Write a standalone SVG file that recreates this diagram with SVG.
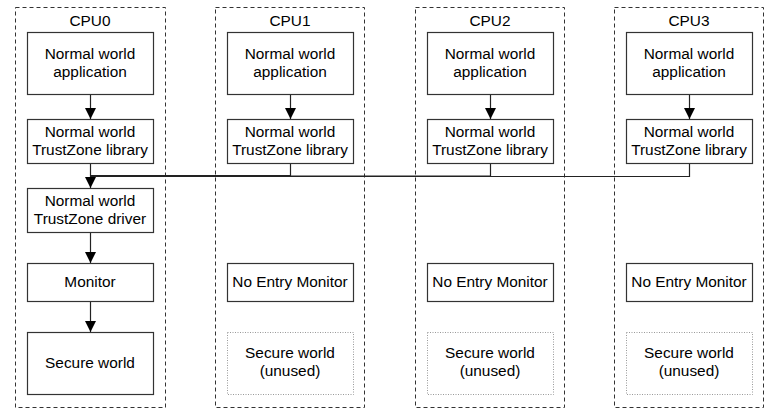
<svg xmlns="http://www.w3.org/2000/svg" width="784" height="420" viewBox="0 0 784 420">
<defs>
<style>
text{font-family:"Liberation Sans",Arial,sans-serif;font-size:15.4px;fill:#000;text-anchor:middle}
.cpu{fill:none;stroke:#333;stroke-width:1;stroke-dasharray:4,3}
.box{fill:#fff;stroke:#333;stroke-width:1.2}
.unused{fill:#fff;stroke:#999;stroke-width:1;stroke-dasharray:1,1.5}
.ln{fill:none;stroke:#222;stroke-width:1.2}
.ar{fill:none;stroke:#222;stroke-width:1.2;marker-end:url(#ah)}
</style>
<marker id="ah" viewBox="0 0 10 10" refX="10" refY="5" markerWidth="11" markerHeight="11" markerUnits="userSpaceOnUse" orient="auto">
<path d="M0,0 L10,5 L0,10 z" fill="#000"/>
</marker>
</defs>
<rect width="784" height="420" fill="#fff"/>

<g id="cpu0">
<rect class="cpu" x="15.5" y="7.5" width="150" height="400"/>
<text x="90" y="26">CPU0</text>
</g>
<g id="cpu1">
<rect class="cpu" x="215.5" y="7.5" width="149" height="400"/>
<text x="290" y="26">CPU1</text>
</g>
<g id="cpu2">
<rect class="cpu" x="415.5" y="7.5" width="149" height="400"/>
<text x="490" y="26">CPU2</text>
</g>
<g id="cpu3">
<rect class="cpu" x="614.5" y="7.5" width="149" height="400"/>
<text x="689" y="26">CPU3</text>
</g>

<g id="cpu0-app"><rect class="box" x="27.5" y="32.5" width="126" height="62"/><text x="90" y="59">Normal world</text><text x="90" y="77">application</text></g>
<g id="cpu0-lib"><rect class="box" x="27.5" y="119.5" width="126" height="44"/><text x="90" y="137">Normal world</text><text x="90" y="155">TrustZone library</text></g>
<g id="cpu0-drv"><rect class="box" x="27.5" y="188.5" width="126" height="44"/><text x="90" y="206">Normal world</text><text x="90" y="224">TrustZone driver</text></g>
<g id="cpu0-mon"><rect class="box" x="27.5" y="263.5" width="126" height="38"/><text x="90" y="287">Monitor</text></g>
<g id="cpu0-sec"><rect class="box" x="27.5" y="332.5" width="126" height="62"/><text x="90" y="368">Secure world</text></g>

<g id="cpu1-app"><rect class="box" x="227.5" y="32.5" width="126" height="62"/><text x="290" y="59">Normal world</text><text x="290" y="77">application</text></g>
<g id="cpu1-lib"><rect class="box" x="227.5" y="119.5" width="126" height="44"/><text x="290" y="137">Normal world</text><text x="290" y="155">TrustZone library</text></g>
<g id="cpu1-mon"><rect class="box" x="227.5" y="263.5" width="126" height="38"/><text x="290" y="287">No Entry Monitor</text></g>
<g id="cpu1-sec"><rect class="unused" x="227.5" y="332.5" width="126" height="62"/><text x="290" y="358">Secure world</text><text x="290" y="376">(unused)</text></g>

<g id="cpu2-app"><rect class="box" x="427.5" y="32.5" width="126" height="62"/><text x="490" y="59">Normal world</text><text x="490" y="77">application</text></g>
<g id="cpu2-lib"><rect class="box" x="427.5" y="119.5" width="126" height="44"/><text x="490" y="137">Normal world</text><text x="490" y="155">TrustZone library</text></g>
<g id="cpu2-mon"><rect class="box" x="427.5" y="263.5" width="126" height="38"/><text x="490" y="287">No Entry Monitor</text></g>
<g id="cpu2-sec"><rect class="unused" x="427.5" y="332.5" width="126" height="62"/><text x="490" y="358">Secure world</text><text x="490" y="376">(unused)</text></g>

<g id="cpu3-app"><rect class="box" x="626.5" y="32.5" width="126" height="62"/><text x="689" y="59">Normal world</text><text x="689" y="77">application</text></g>
<g id="cpu3-lib"><rect class="box" x="626.5" y="119.5" width="126" height="44"/><text x="689" y="137">Normal world</text><text x="689" y="155">TrustZone library</text></g>
<g id="cpu3-mon"><rect class="box" x="626.5" y="263.5" width="126" height="38"/><text x="689" y="287">No Entry Monitor</text></g>
<g id="cpu3-sec"><rect class="unused" x="626.5" y="332.5" width="126" height="62"/><text x="689" y="358">Secure world</text><text x="689" y="376">(unused)</text></g>

<g id="connectors">
<path class="ar" d="M90.5,95 V119"/>
<path class="ar" d="M90.5,164 V188"/>
<path class="ar" d="M90.5,233 V263"/>
<path class="ar" d="M90.5,302 V332"/>
<path class="ar" d="M290.5,95 V119"/>
<path class="ar" d="M490.5,95 V119"/>
<path class="ar" d="M689.5,95 V119"/>
<path class="ln" d="M290.5,164 V175.5 H90.5"/>
<path class="ln" d="M490.5,164 V176 H90.5"/>
<path class="ln" d="M689.5,164 V176.5 H90.5"/>
</g>
</svg>
